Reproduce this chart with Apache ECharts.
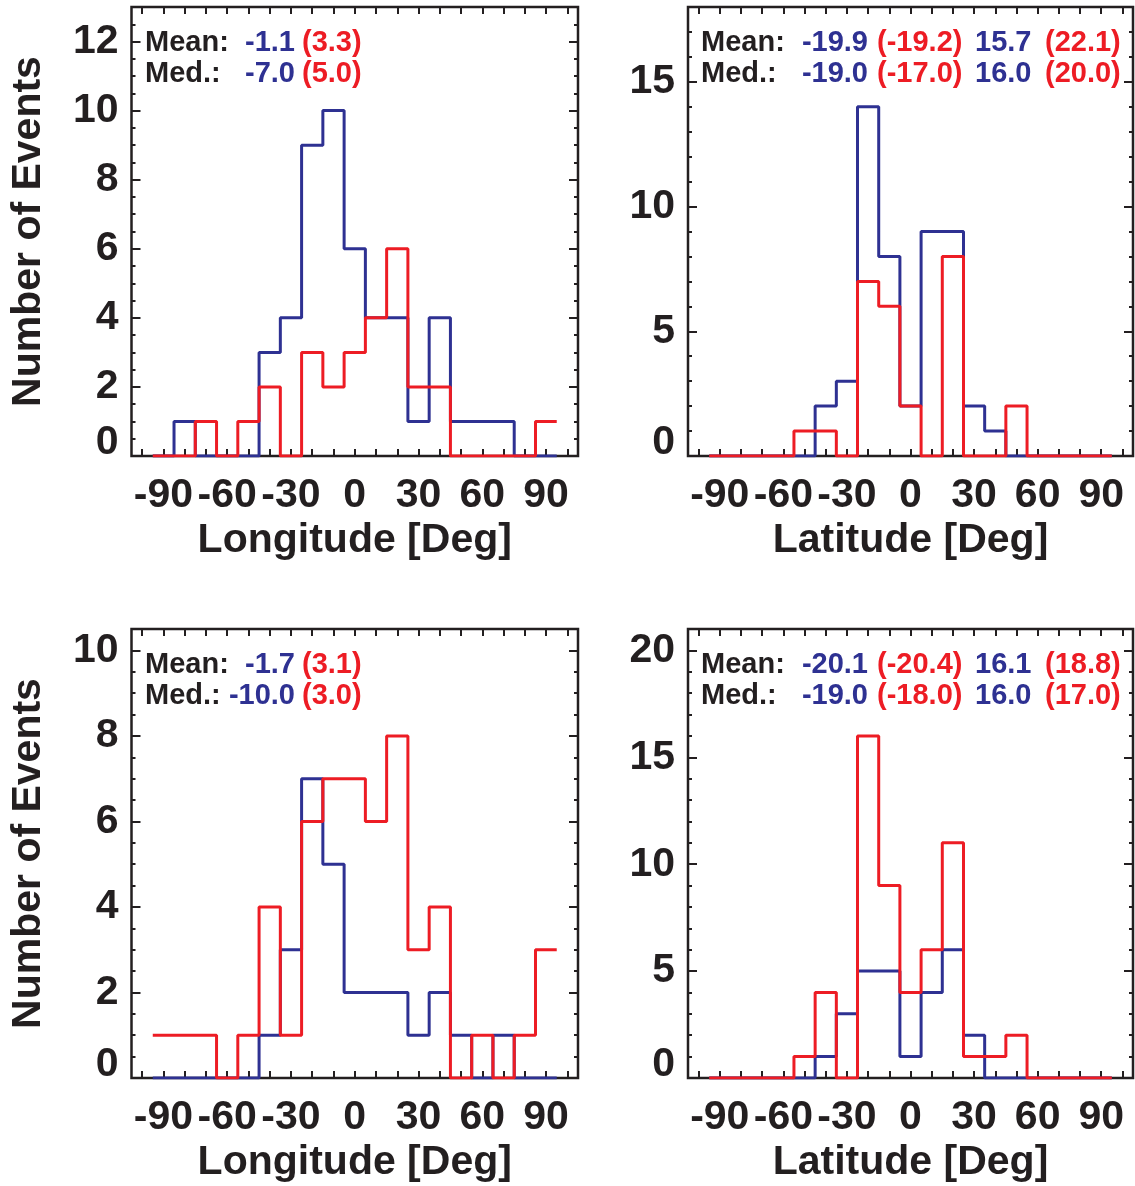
<!DOCTYPE html>
<html><head><meta charset="utf-8">
<script src="https://cdn.jsdelivr.net/npm/echarts@6/dist/echarts.min.js"></script>
<style>html,body{margin:0;padding:0;background:#fff}#c{width:1135px;height:1186px}</style>
</head><body><div id="c"></div>
<script>
// ---------------- data ----------------
const binCenters = [-90,-80,-70,-60,-50,-40,-30,-20,-10,0,10,20,30,40,50,60,70,80,90];
const binWidth = 10;

const lonTopBlue = [0,1,0,0,0,3,4,9,10,6,4,4,1,4,1,1,1,0,0];
const lonTopRed  = [0,0,1,0,1,2,0,3,2,3,4,6,2,2,0,0,0,0,1];
const latTopBlue = [0,0,0,0,0,2,3,14,8,2,9,9,2,1,0,0,0,0,0];
const latTopRed  = [0,0,0,0,1,1,0,7,6,2,0,8,0,0,2,0,0,0,0];
const lonBotBlue = [0,0,0,0,0,1,3,7,5,2,2,2,1,2,1,0,1,0,0];
const lonBotRed  = [1,1,1,0,1,4,1,6,7,7,6,8,3,4,0,1,0,1,3];
const latBotBlue = [0,0,0,0,0,1,3,5,5,1,4,6,2,0,0,0,0,0,0];
const latBotRed  = [0,0,0,0,1,4,0,16,9,4,6,11,1,1,2,0,0,0,0];

const lonTopMean = ['-1.1','(3.3)'];
const lonTopMed  = ['-7.0','(5.0)'];
const latTopMean = ['-19.9','(-19.2)','15.7','(22.1)'];
const latTopMed  = ['-19.0','(-17.0)','16.0','(20.0)'];
const lonBotMean = ['-1.7','(3.1)'];
const lonBotMed  = ['-10.0','(3.0)'];
const latBotMean = ['-20.1','(-20.4)','16.1','(18.8)'];
const latBotMed  = ['-19.0','(-18.0)','16.0','(17.0)'];

const xTickLabels = [-90,-60,-30,0,30,60,90];
const xTicks = [-100,-90,-80,-70,-60,-50,-40,-30,-20,-10,0,10,20,30,40,50,60,70,80,90,100];
const yTicksLonTop = [0,2,4,6,8,10,12];
const yTicksLatTop = [0,5,10,15];
const yTicksLonBot = [0,2,4,6,8,10];
const yTicksLatBot = [0,5,10,15,20];
// ---------------------------------------

const C_BLUE = '#2E3192', C_RED = '#ED1C24', C_INK = '#231F20';
const FONT = '"Liberation Sans", Arial, Helvetica, sans-serif';

const panels = [
  {grid:{left:131.5, top:7, width:446.5, height:449}, xName:'Longitude [Deg]', yName:'Number of Events',
   yMax:13, yMajor:yTicksLonTop, yMinor:0.5, blue:lonTopBlue, red:lonTopRed,
   stats:[lonTopMean, lonTopMed], kind:'lon', rowY:[43,74], labelX:145},
  {grid:{left:688, top:7, width:445, height:449}, xName:'Latitude [Deg]', yName:'',
   yMax:18, yMajor:yTicksLatTop, yMinor:1, blue:latTopBlue, red:latTopRed,
   stats:[latTopMean, latTopMed], kind:'lat', rowY:[43,74], labelX:701},
  {grid:{left:131.5, top:629, width:446.5, height:449}, xName:'Longitude [Deg]', yName:'Number of Events',
   yMax:10.5, yMajor:yTicksLonBot, yMinor:0.5, blue:lonBotBlue, red:lonBotRed,
   stats:[lonBotMean, lonBotMed], kind:'lon', rowY:[665,696], labelX:145},
  {grid:{left:688, top:629, width:445, height:449}, xName:'Latitude [Deg]', yName:'',
   yMax:21, yMajor:yTicksLatBot, yMinor:1, blue:latBotBlue, red:latBotRed,
   stats:[latBotMean, latBotMed], kind:'lat', rowY:[665,696], labelX:701}
];

function histData(values) {
  const edges = binCenters.map(c => c - binWidth / 2);
  edges.push(binCenters[binCenters.length - 1] + binWidth / 2);
  const d = values.map((v, i) => [edges[i], v]);
  d.push([edges[edges.length - 1], values[values.length - 1]]);
  return d;
}

const labelFont = {fontSize:41, fontWeight:'bold', color:C_INK, fontFamily:FONT};
const grids = [], xAxes = [], yAxes = [], series = [], graphics = [];

panels.forEach((p, i) => {
  grids.push(Object.assign({show:true, borderColor:C_INK, borderWidth:2.5, backgroundColor:'transparent'}, p.grid));
  const xBase = {gridIndex:i, type:'value', min:-105, max:105,
    axisLine:{show:false, onZero:false}, splitLine:{show:false},
    axisTick:{show:true, inside:true, length:7, customValues:xTicks, lineStyle:{color:C_INK, width:2}}};
  xAxes.push(Object.assign({}, xBase, {position:'bottom',
    axisLabel:Object.assign({customValues:xTickLabels, margin:19}, labelFont),
    name:p.xName, nameLocation:'middle', nameGap:64, nameTextStyle:Object.assign({}, labelFont)}));
  xAxes.push(Object.assign({}, xBase, {position:'top', axisLabel:{show:false}}));

  const yBase = {gridIndex:i, type:'value', min:0, max:p.yMax, axisLine:{show:false, onZero:false}, splitLine:{show:false}};
  const majorTick = {show:true, inside:true, length:9, customValues:p.yMajor, lineStyle:{color:C_INK, width:2}};
  const minorTick = {show:true, inside:true, length:4, lineStyle:{color:C_INK, width:2}};
  yAxes.push(Object.assign({}, yBase, {position:'left', axisTick:majorTick,
    axisLabel:Object.assign({customValues:p.yMajor.slice(1), margin:13}, labelFont),
    name:p.yName, nameLocation:'middle', nameRotate:90, nameGap:82, nameTextStyle:Object.assign({}, labelFont)}));
  yAxes.push(Object.assign({}, yBase, {position:'left', interval:p.yMinor, axisTick:minorTick,
    axisLabel:Object.assign({customValues:[p.yMajor[0]], margin:13, verticalAlign:'bottom', lineHeight:26}, labelFont)}));
  yAxes.push(Object.assign({}, yBase, {position:'right', axisTick:majorTick, axisLabel:{show:false}}));
  yAxes.push(Object.assign({}, yBase, {position:'right', interval:p.yMinor, axisTick:minorTick, axisLabel:{show:false}}));

  [[p.blue, C_BLUE], [p.red, C_RED]].forEach(([vals, col], k) => {
    series.push({type:'line', xAxisIndex:2*i, yAxisIndex:4*i, data:histData(vals), step:'end',
      symbol:'none', showSymbol:false, z:3+k, lineStyle:{color:col, width:3}, itemStyle:{color:col},
      emphasis:{disabled:true}, silent:true});
  });

  // statistic annotations
  const txt = (text, x, y, fill, align) => graphics.push({type:'text', x:x, y:y, silent:true, z:10,
    style:{text:text, fill:fill, font:'bold 29px ' + FONT, textAlign:align, textVerticalAlign:'middle'}});
  ['Mean:', 'Med.:'].forEach((lab, r) => {
    const y = p.rowY[r], s = p.stats[r];
    txt(lab, p.labelX, y, C_INK, 'left');
    if (p.kind === 'lon') {
      txt(s[0], p.labelX + 150, y, C_BLUE, 'right');
      txt(s[1], p.labelX + 157, y, C_RED, 'left');
    } else {
      txt(s[0], p.labelX + 167, y, C_BLUE, 'right');
      txt(s[1], p.labelX + 176, y, C_RED, 'left');
      txt(s[2], p.labelX + 274, y, C_BLUE, 'left');
      txt(s[3], p.labelX + 344, y, C_RED, 'left');
    }
  });
});

const chart = echarts.init(document.getElementById('c'), null, {renderer:'canvas'});
chart.setOption({
  backgroundColor:'#ffffff', animation:false,
  grid:grids, xAxis:xAxes, yAxis:yAxes, series:series, graphic:graphics
});
</script></body></html>
